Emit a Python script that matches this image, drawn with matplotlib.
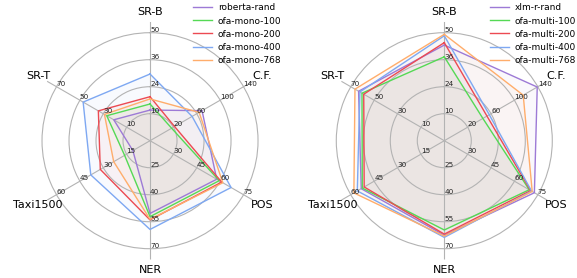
import numpy as np
import matplotlib
matplotlib.use("Agg")
import matplotlib.pyplot as plt

# axes clockwise from the top
axis_names = ["SR-B", "C.F.", "POS", "NER", "Taxi1500", "SR-T"]
# value at the centre and at the outer ring of each axis
axis_lo = [-3.33, -20, 15, 10, 0, -10]
axis_hi = [50, 140, 75, 70, 60, 70]
ring_labels = [["10", "24", "36", "50"],
               ["20", "60", "100", "140"],
               ["30", "45", "60", "75"],
               ["25", "40", "55", "70"],
               ["15", "30", "45", "60"],
               ["10", "30", "50", "70"]]

mono_names = ["roberta-rand", "ofa-mono-100", "ofa-mono-200",
              "ofa-mono-400", "ofa-mono-768"]
mono_vals = [[11.8, 69, 57.8, 50.4, 11.0, 21.0],
             [14.8, 17, 59.4, 52.2, 16.3, 27.0],
             [18.4, 22, 61.0, 54.0, 31.9, 34.2],
             [29.6, 52, 67.0, 59.3, 38.0, 47.2],
             [17.3, 64, 61.7, 53.7, 23.3, 29.0]]

multi_names = ["xlm-r-rand", "ofa-multi-100", "ofa-multi-200",
               "ofa-multi-400", "ofa-multi-768"]
multi_vals = [[43.9, 139, 72.8, 62.5, 53.3, 63.3],
              [38.1, 46, 69.5, 59.6, 52.6, 60.4],
              [45.1, 53, 70.4, 61.9, 51.4, 58.9],
              [48.5, 57, 71.0, 63.7, 55.8, 62.2],
              [49.2, 115, 71.4, 63.0, 58.0, 66.4]]

colors = ["#9d7ad6", "#55d955", "#ec4a52", "#7ea8f2", "#ffad6b"]

angles = np.arange(len(axis_names)) * 2 * np.pi / len(axis_names)


def scale(vals):
  return [(v - lo) / (hi - lo) for v, lo, hi in zip(vals, axis_lo, axis_hi)]


def radar(ax, names, vals):
  ax.set_theta_offset(np.pi / 2)
  ax.set_theta_direction(-1)
  ax.set_ylim(0, 1.1)
  ax.set_yticks([0.25, 0.5, 0.75, 1.0])
  ax.set_yticklabels([])
  ax.set_xticks(angles)
  ax.set_xticklabels([])
  ax.grid(True, color="#b3b3b3", lw=0.8)
  ax.spines["polar"].set_visible(False)
  th = np.append(angles, angles[0])
  for j, (n, v) in enumerate(zip(names, vals)):
    r = scale(v)
    r = np.append(r, r[0])
    ax.plot(th, r, color=colors[j], lw=1.0, label=n)
    ax.fill(th, r, color=colors[j], alpha=0.05, lw=0)
  for i, a in enumerate(angles):
    for k, lab in enumerate(ring_labels[i]):
      ax.text(a, 0.25 * (k + 1), lab, fontsize=5.2, ha="left", va="bottom",
              color="#222222")
    ax.text(a, 1.195, axis_names[i], fontsize=8, ha="center", va="center")


fig = plt.figure(figsize=(5.77, 2.78), dpi=100)
axL = fig.add_axes([0.0541, 0.0665, 0.4118, 0.8547], polar=True)
axR = fig.add_axes([0.5641, 0.0665, 0.4118, 0.8547], polar=True)
radar(axL, mono_names, mono_vals)
radar(axR, multi_names, multi_vals)

for ax, x0 in [(axL, 193 / 577), (axR, 490 / 577)]:
  ax.legend(loc="upper left", bbox_to_anchor=(x0, 1 - 3.5 / 278),
            bbox_transform=fig.transFigure, frameon=False, fontsize=6.5,
            borderpad=0, borderaxespad=0, handletextpad=0.65,
            labelspacing=0.45, handlelength=2.1)

fig.savefig("out.png", dpi=100)
